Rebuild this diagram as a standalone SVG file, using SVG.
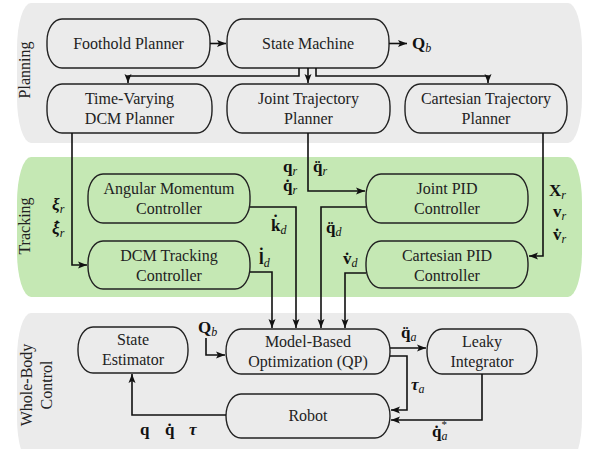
<svg xmlns="http://www.w3.org/2000/svg" width="593" height="449" viewBox="0 0 593 449" font-family="Liberation Serif">
<defs>
<marker id="ah" markerWidth="10" markerHeight="8" refX="9" refY="4" orient="auto" markerUnits="userSpaceOnUse">
<path d="M0,0.5 L9,4 L0,7.5 L2,4 Z" fill="#111"/>
</marker>
</defs>
<rect fill="#ebebeb" x="17" y="3" width="565" height="140" rx="14" ry="45"/>
<rect fill="#c5e8b4" x="17" y="157" width="565" height="140" rx="14" ry="45"/>
<rect fill="#ebebeb" x="17" y="313" width="565" height="150" rx="14" ry="45"/>
<text font-family="Liberation Serif" font-size="16" fill="#222" text-anchor="middle" transform="translate(30,70) rotate(-90)">Planning</text>
<text font-family="Liberation Serif" font-size="16" fill="#222" text-anchor="middle" transform="translate(30,226) rotate(-90)">Tracking</text>
<text font-family="Liberation Serif" font-size="16" fill="#222" text-anchor="middle" transform="translate(32,385) rotate(-90)">Whole-Body</text>
<text font-family="Liberation Serif" font-size="16" fill="#222" text-anchor="middle" transform="translate(52,385) rotate(-90)">Control</text>
<g stroke="#222" stroke-width="1.4" font-size="16" text-anchor="middle">
<g id="foothold"><rect fill="none" x="47" y="19" width="163" height="49" rx="15" ry="22"/><text stroke="none" fill="#222" font-family="Liberation Serif" x="128.5" y="48.5">Foothold Planner</text></g>
<g id="statemachine"><rect fill="none" x="227" y="19" width="162" height="49" rx="15" ry="22"/><text stroke="none" fill="#222" font-family="Liberation Serif" x="308" y="48.5">State Machine</text></g>
<g id="dcmplanner"><rect fill="none" x="47" y="84" width="165" height="49" rx="15" ry="22"/><text stroke="none" fill="#222" font-family="Liberation Serif" x="129.5" y="104">Time-Varying</text><text stroke="none" fill="#222" font-family="Liberation Serif" x="129.5" y="124">DCM Planner</text></g>
<g id="jointtraj"><rect fill="none" x="227" y="84" width="163" height="49" rx="15" ry="22"/><text stroke="none" fill="#222" font-family="Liberation Serif" x="308.5" y="104">Joint Trajectory</text><text stroke="none" fill="#222" font-family="Liberation Serif" x="308.5" y="124">Planner</text></g>
<g id="carttraj"><rect fill="none" x="405" y="84" width="162" height="49" rx="15" ry="22"/><text stroke="none" fill="#222" font-family="Liberation Serif" x="486" y="104">Cartesian Trajectory</text><text stroke="none" fill="#222" font-family="Liberation Serif" x="486" y="124">Planner</text></g>
<g id="angmom"><rect fill="none" x="88" y="174" width="162" height="49" rx="15" ry="22"/><text stroke="none" fill="#222" font-family="Liberation Serif" x="169" y="194">Angular Momentum</text><text stroke="none" fill="#222" font-family="Liberation Serif" x="169" y="214">Controller</text></g>
<g id="dcmtrack"><rect fill="none" x="88" y="241" width="162" height="48" rx="15" ry="22"/><text stroke="none" fill="#222" font-family="Liberation Serif" x="169" y="261">DCM Tracking</text><text stroke="none" fill="#222" font-family="Liberation Serif" x="169" y="281">Controller</text></g>
<g id="jointpid"><rect fill="none" x="366" y="174" width="162" height="49" rx="15" ry="22"/><text stroke="none" fill="#222" font-family="Liberation Serif" x="447" y="194">Joint PID</text><text stroke="none" fill="#222" font-family="Liberation Serif" x="447" y="214">Controller</text></g>
<g id="cartpid"><rect fill="none" x="366" y="241" width="162" height="47" rx="15" ry="22"/><text stroke="none" fill="#222" font-family="Liberation Serif" x="447" y="261">Cartesian PID</text><text stroke="none" fill="#222" font-family="Liberation Serif" x="447" y="281">Controller</text></g>
<g id="stateest"><rect fill="none" x="78" y="327" width="110" height="46" rx="15" ry="22"/><text stroke="none" fill="#222" font-family="Liberation Serif" x="133" y="345">State</text><text stroke="none" fill="#222" font-family="Liberation Serif" x="133" y="365">Estimator</text></g>
<g id="qp"><rect fill="none" x="226" y="329" width="164" height="45" rx="15" ry="22"/><text stroke="none" fill="#222" font-family="Liberation Serif" x="308" y="347">Model-Based</text><text stroke="none" fill="#222" font-family="Liberation Serif" x="308" y="367">Optimization (QP)</text></g>
<g id="leaky"><rect fill="none" x="427" y="329" width="110" height="45" rx="15" ry="22"/><text stroke="none" fill="#222" font-family="Liberation Serif" x="482" y="347">Leaky</text><text stroke="none" fill="#222" font-family="Liberation Serif" x="482" y="367">Integrator</text></g>
<g id="robot"><rect fill="none" x="226" y="394" width="164" height="44" rx="15" ry="22"/><text stroke="none" fill="#222" font-family="Liberation Serif" x="308" y="421">Robot</text></g>
</g>

<g id="connectors" fill="none" stroke="#111" stroke-width="1.6">
<path d="M210,43.5 H226" marker-end="url(#ah)"/>
<path d="M389,43.5 H407" marker-end="url(#ah)"/>
<path d="M299,68 V76 H128 V83" marker-end="url(#ah)"/>
<path d="M308,68 V83" marker-end="url(#ah)"/>
<path d="M316,68 V76 H488 V83" marker-end="url(#ah)"/>
<path d="M72,133 V265 H87" marker-end="url(#ah)"/>
<path d="M308,133 V191 H365" marker-end="url(#ah)"/>
<path d="M543,133 V256 H529" marker-end="url(#ah)"/>
<path d="M250,207 H296 V328" marker-end="url(#ah)"/>
<path d="M250,272 H272 V328" marker-end="url(#ah)"/>
<path d="M366,207 H321 V328" marker-end="url(#ah)"/>
<path d="M366,273 H345 V328" marker-end="url(#ah)"/>
<path d="M206,338 V355 H225" marker-end="url(#ah)"/>
<path d="M390,348 H426" marker-end="url(#ah)"/>
<path d="M390,356 H407 V410 H391" marker-end="url(#ah)"/>
<path d="M482,374 V420 H391" marker-end="url(#ah)"/>
<path d="M226,415 H132 V374" marker-end="url(#ah)"/>
</g>

<g id="labels" fill="#111" font-size="17" font-weight="bold">
<text font-family="Liberation Serif" x="412" y="49">Q<tspan font-style="italic" font-weight="normal" font-size="12" dy="3">b</tspan></text>
<text font-family="Liberation Serif" x="52" y="210" font-style="italic">ξ<tspan font-weight="normal" font-size="12" dy="3">r</tspan></text>
<text font-family="Liberation Serif" x="52" y="234" font-style="italic">ξ<tspan font-weight="normal" font-size="12" dy="3">r</tspan></text>
<text font-family="Liberation Serif" x="57" y="232" text-anchor="middle">˙</text>
<text font-family="Liberation Serif" x="283" y="172">q<tspan font-style="italic" font-weight="normal" font-size="12" dy="3">r</tspan></text>
<text font-family="Liberation Serif" x="283" y="191">q<tspan font-style="italic" font-weight="normal" font-size="12" dy="3">r</tspan></text>
<text font-family="Liberation Serif" x="287.7" y="191" text-anchor="middle">˙</text>
<text font-family="Liberation Serif" x="313" y="172">q<tspan font-style="italic" font-weight="normal" font-size="12" dy="3">r</tspan></text>
<text font-family="Liberation Serif" x="317.7" y="172" text-anchor="middle">¨</text>
<text font-family="Liberation Serif" x="271" y="231">k<tspan font-style="italic" font-weight="normal" font-size="12" dy="3">d</tspan></text>
<text font-family="Liberation Serif" x="275.5" y="226" text-anchor="middle">˙</text>
<text font-family="Liberation Serif" x="259" y="264">l<tspan font-style="italic" font-weight="normal" font-size="12" dy="3">d</tspan></text>
<text font-family="Liberation Serif" x="261.4" y="259" text-anchor="middle">˙</text>
<text font-family="Liberation Serif" x="326" y="233">q<tspan font-style="italic" font-weight="normal" font-size="12" dy="3">d</tspan></text>
<text font-family="Liberation Serif" x="330.7" y="233" text-anchor="middle">¨</text>
<text font-family="Liberation Serif" x="343" y="264">v<tspan font-style="italic" font-weight="normal" font-size="12" dy="3">d</tspan></text>
<text font-family="Liberation Serif" x="347.2" y="264" text-anchor="middle">˙</text>
<text font-family="Liberation Serif" x="549" y="196">X<tspan font-style="italic" font-weight="normal" font-size="12" dy="3">r</tspan></text>
<text font-family="Liberation Serif" x="553" y="217">v<tspan font-style="italic" font-weight="normal" font-size="12" dy="3">r</tspan></text>
<text font-family="Liberation Serif" x="553" y="240">v<tspan font-style="italic" font-weight="normal" font-size="12" dy="3">r</tspan></text>
<text font-family="Liberation Serif" x="557.2" y="240" text-anchor="middle">˙</text>
<text font-family="Liberation Serif" x="198" y="333">Q<tspan font-style="italic" font-weight="normal" font-size="12" dy="3">b</tspan></text>
<text font-family="Liberation Serif" x="401" y="338">q<tspan font-style="italic" font-weight="normal" font-size="12" dy="3">a</tspan></text>
<text font-family="Liberation Serif" x="405.7" y="338" text-anchor="middle">¨</text>
<text font-family="Liberation Serif" x="411" y="390" font-style="italic">τ<tspan font-weight="normal" font-size="12" dy="3">a</tspan></text>
<text font-family="Liberation Serif" x="432" y="437">q<tspan font-style="italic" font-weight="normal" font-size="12" dy="3">a</tspan><tspan font-weight="normal" font-size="11" dx="-6" dy="-12">*</tspan></text>
<text font-family="Liberation Serif" x="436.7" y="437" text-anchor="middle">˙</text>
<text font-family="Liberation Serif" x="140" y="435">q</text>
<text font-family="Liberation Serif" x="165" y="435">q</text>
<text font-family="Liberation Serif" x="169.7" y="435" text-anchor="middle">˙</text>
<text font-family="Liberation Serif" x="189" y="435" font-style="italic">τ</text>
</g>
</svg>
